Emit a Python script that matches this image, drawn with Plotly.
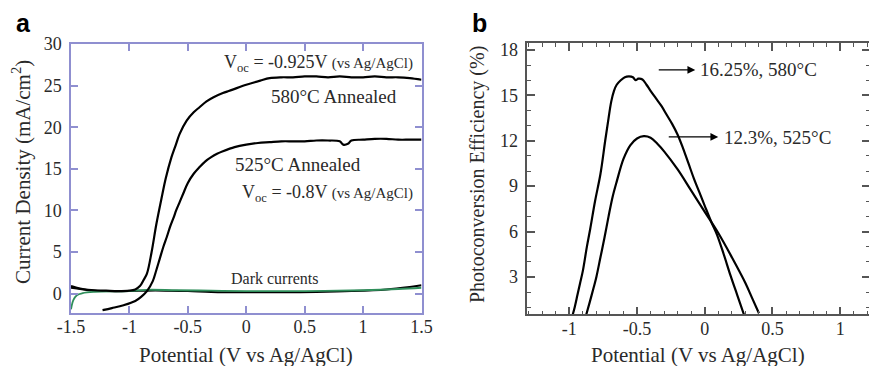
import plotly.graph_objects as go

W, H = 877, 366
OFF = 8  # page body margin offset observed in the renderer

# ---------------- Panel a data (current density vs potential) ----------------
a_580_x = [-1.5, -1.45, -1.4, -1.3, -1.2, -1.1, -1.0, -0.95, -0.91, -0.88, -0.85, -0.81, -0.77,
           -0.72, -0.69, -0.64, -0.6, -0.57, -0.51, -0.45, -0.4, -0.34, -0.28, -0.2, -0.15, -0.11,
           0.0, 0.12, 0.2, 0.3, 0.4, 0.5, 0.6, 0.7, 0.8, 0.9, 1.0, 1.1, 1.2, 1.3, 1.4, 1.5]
a_580_y = [0.9, 0.7, 0.55, 0.4, 0.35, 0.3, 0.35, 0.5, 0.9, 1.6, 2.4, 5.0, 8.3,
           11.8, 13.8, 16.4, 18.0, 19.2, 20.8, 21.8, 22.4, 23.1, 23.6, 24.1, 24.35, 24.55,
           25.1, 25.6, 25.9, 26.0, 26.0, 26.1, 26.1, 26.0, 26.1, 26.0, 26.0, 26.1, 26.0, 26.0, 25.9, 25.7]

a_525_x = [-1.23, -1.15, -1.05, -0.95, -0.9, -0.85, -0.8, -0.77, -0.74, -0.71, -0.68, -0.65, -0.62,
           -0.6, -0.57, -0.54, -0.5, -0.45, -0.4, -0.35, -0.3, -0.25, -0.2, -0.1, 0.0, 0.1, 0.2,
           0.3, 0.4, 0.5, 0.6, 0.7, 0.8, 0.83, 0.87, 0.9, 1.0, 1.1, 1.2, 1.3, 1.4, 1.5]
a_525_y = [-2.0, -1.75, -1.4, -0.9, -0.4, 0.3, 1.5, 2.8, 4.2, 5.6, 6.8, 8.1, 9.2,
           10.0, 11.0, 12.0, 13.3, 14.4, 15.2, 15.9, 16.4, 16.8, 17.1, 17.6, 17.9, 18.1, 18.2,
           18.3, 18.3, 18.3, 18.4, 18.4, 18.3, 17.9, 18.0, 18.4, 18.5, 18.6, 18.6, 18.5, 18.5, 18.5]

dark_black_x = [-1.5, -1.45, -1.35, -1.2, -1.0, -0.85, -0.7, -0.5, -0.3, 0.0, 0.3, 0.6, 0.9, 1.2, 1.4, 1.5]
dark_black_y = [0.7, 0.6, 0.4, 0.3, 0.3, 0.35, 0.35, 0.3, 0.2, 0.15, 0.15, 0.2, 0.3, 0.5, 0.8, 1.0]

dark_green_x = [-1.5, -1.48, -1.45, -1.4, -1.3, -1.0, -0.85, -0.6, -0.3, 0.0, 0.5, 1.0, 1.3, 1.5]
dark_green_y = [-1.9, -0.8, -0.2, 0.05, 0.2, 0.3, 0.45, 0.4, 0.35, 0.3, 0.3, 0.4, 0.55, 0.7]

a_xticks = [-1.5, -1, -0.5, 0, 0.5, 1, 1.5]
a_xtick_text = ["-1.5", "-1", "-0.5", "0", "0.5", "1", "1.5"]
a_yticks = [0, 5, 10, 15, 20, 25, 30]

# ---------------- Panel b data (photoconversion efficiency) ----------------
b_580_x = [-0.975, -0.96, -0.94, -0.92, -0.9, -0.87, -0.845, -0.81, -0.77, -0.735, -0.71, -0.69,
           -0.67, -0.65, -0.62, -0.59, -0.56, -0.53, -0.51, -0.49, -0.46, -0.43, -0.4, -0.36,
           -0.32, -0.28, -0.24, -0.2, -0.16, -0.12, -0.08, -0.04, 0.0, 0.05, 0.09, 0.14, 0.19,
           0.24, 0.29]
b_580_y = [0.5, 1.0, 1.8, 2.6, 3.4, 5.0, 6.2, 8.0, 9.8, 12.0, 13.5, 14.6,
           15.3, 15.7, 16.0, 16.2, 16.25, 16.2, 16.0, 16.1, 16.05, 15.7, 15.3, 14.8,
           14.3, 13.7, 13.1, 12.4, 11.5, 10.5, 9.5, 8.6, 7.7, 6.6, 5.8, 4.5, 3.1,
           1.8, 0.5]

b_525_x = [-0.875, -0.85, -0.82, -0.8, -0.77, -0.74, -0.71, -0.68, -0.65, -0.6, -0.55, -0.5,
           -0.45, -0.4, -0.35, -0.3, -0.2, -0.1, 0.0, 0.1, 0.2, 0.3, 0.35, 0.4]
b_525_y = [0.5, 1.3, 2.3, 3.0, 4.3, 5.6, 7.0, 8.3, 9.3, 10.8, 11.7, 12.15,
           12.3, 12.2, 11.8, 11.3, 10.1, 8.7, 7.3, 5.9, 4.3, 2.6, 1.6, 0.6]

b_xticks = [-1, -0.5, 0, 0.5, 1]
b_xtick_text = ["-1", "-0.5", "0", "0.5", "1"]
b_yticks = [3, 6, 9, 12, 15, 18]

# ---------------- styling helpers ----------------
SERIF = "Liberation Serif"
TXT = "#2a2a2a"
A_AX = "#8f8fd0"
B_AX = "#555555"


def px(xp):
    return (xp - OFF) / W


def py(yp):
    return 1 - (yp - OFF) / H


fig = go.Figure()

line_kw = dict(color="black", width=2.2)
fig.add_trace(go.Scatter(x=dark_black_x, y=dark_black_y, mode="lines", line=dict(color="black", width=2),
                         line_shape="spline", xaxis="x", yaxis="y"))
fig.add_trace(go.Scatter(x=dark_green_x, y=dark_green_y, mode="lines", line=dict(color="#2f8f5b", width=1.8),
                         line_shape="spline", xaxis="x", yaxis="y"))
fig.add_trace(go.Scatter(x=a_580_x, y=a_580_y, mode="lines", line=line_kw, line_shape="spline",
                         xaxis="x", yaxis="y"))
fig.add_trace(go.Scatter(x=a_525_x, y=a_525_y, mode="lines", line=line_kw, line_shape="spline",
                         xaxis="x", yaxis="y"))
fig.add_trace(go.Scatter(x=b_580_x, y=b_580_y, mode="lines", line=line_kw, line_shape="spline",
                         xaxis="x2", yaxis="y2"))
fig.add_trace(go.Scatter(x=b_525_x, y=b_525_y, mode="lines", line=line_kw, line_shape="spline",
                         xaxis="x2", yaxis="y2"))

tickfont = dict(family=SERIF, size=18, color=TXT)

fig.update_layout(
    width=W, height=H, autosize=False,
    margin=dict(l=0, r=0, t=0, b=0, pad=0, autoexpand=False),
    paper_bgcolor="white", plot_bgcolor="white",
    showlegend=False,
    xaxis=dict(domain=[px(71), px(421.5)], range=[-1.5, 1.5], tickvals=a_xticks, ticktext=a_xtick_text,
               showline=True, mirror="ticks", linecolor=A_AX, linewidth=1.5,
               ticks="inside", ticklen=7, tickcolor=A_AX, tickwidth=1.5, automargin=False,
               showgrid=False, zeroline=False, tickfont=tickfont, ticklabelstandoff=-3),
    yaxis=dict(domain=[py(312.7), py(44)], range=[-2.3, 30], tickvals=a_yticks,
               showline=True, mirror="ticks", linecolor=A_AX, linewidth=1.5,
               ticks="inside", ticklen=7, tickcolor=A_AX, tickwidth=1.5, automargin=False,
               showgrid=False, zeroline=False, tickfont=tickfont, ticklabelstandoff=4),
    xaxis2=dict(domain=[px(527.3), px(870)], range=[-1.31, 1.22], anchor="y2",
                tickvals=b_xticks, ticktext=b_xtick_text,
                showline=True, mirror="ticks", linecolor=B_AX, linewidth=1.5,
                ticks="inside", ticklen=8, tickcolor=B_AX, tickwidth=1.5, automargin=False,
                minor=dict(ticks="inside", ticklen=4, dtick=0.1, tick0=0, tickcolor=B_AX, tickwidth=1.2),
                showgrid=False, zeroline=False, tickfont=tickfont, ticklabelstandoff=-3),
    yaxis2=dict(domain=[py(314.3), py(43.3)], range=[0.53, 18.44], anchor="x2",
                tickvals=b_yticks,
                showline=True, mirror="ticks", linecolor=B_AX, linewidth=1.5,
                ticks="inside", ticklen=8, tickcolor=B_AX, tickwidth=1.5, automargin=False,
                minor=dict(ticks="inside", ticklen=4, dtick=1, tick0=0, tickcolor=B_AX, tickwidth=1.2),
                showgrid=False, zeroline=False, tickfont=tickfont, ticklabelstandoff=4),
)

ann = []


def text(xp, yp, s, size=19, xanchor="center", angle=0, family=SERIF, color=TXT):
    ann.append(dict(x=px(xp), y=py(yp), xref="paper", yref="paper", text=s, showarrow=False,
                    xanchor=xanchor, yanchor="middle", textangle=angle,
                    font=dict(family=family, size=size, color=color)))


# panel labels
text(23, 23, "<b>a</b>", size=25, family="Liberation Sans", color="black")
text(479, 23, "<b>b</b>", size=25, family="Liberation Sans", color="black")

# axis titles
text(246, 355, "Potential (V vs Ag/AgCl)", size=21)
text(698, 355, "Potential (V vs Ag/AgCl)", size=21)
text(21, 172, "Current Density (mA/cm<sup>2</sup>)", size=21, angle=-90)
text(478, 175, "Photoconversion Efficiency (%)", size=20, angle=-90)

# panel a annotations
text(415, 63, "V<sub>oc</sub> = -0.925V <span style='font-size:15px'>(vs Ag/AgCl)</span>",
     size=18, xanchor="right")
text(334, 97, "580°C Annealed", size=19)
text(298, 165, "525°C Annealed", size=19)
text(415, 193, "V<sub>oc</sub> = -0.8V <span style='font-size:15px'>(vs Ag/AgCl)</span>",
     size=18, xanchor="right")
text(275, 278, "Dark currents", size=16)

# panel b annotations
text(698, 70, "16.25%, 580°C", size=19, xanchor="left")
text(722, 137, "12.3%, 525°C", size=19, xanchor="left")


def bx(xpix):
    return -1 + (xpix - 569) / 135.5


def by(ypix):
    return 18 - (ypix - 50) / 15.13


for (x0, x1, yy) in [(657, 695, 70), (667, 718, 137)]:
    ann.append(dict(x=bx(x1), y=by(yy), ax=bx(x0), ay=by(yy), xref="x2", yref="y2",
                    axref="x2", ayref="y2", showarrow=True, arrowhead=2, arrowsize=1.2,
                    arrowwidth=1.3, arrowcolor="black", text=""))

fig.update_layout(annotations=ann)

fig.write_html("out.html")
